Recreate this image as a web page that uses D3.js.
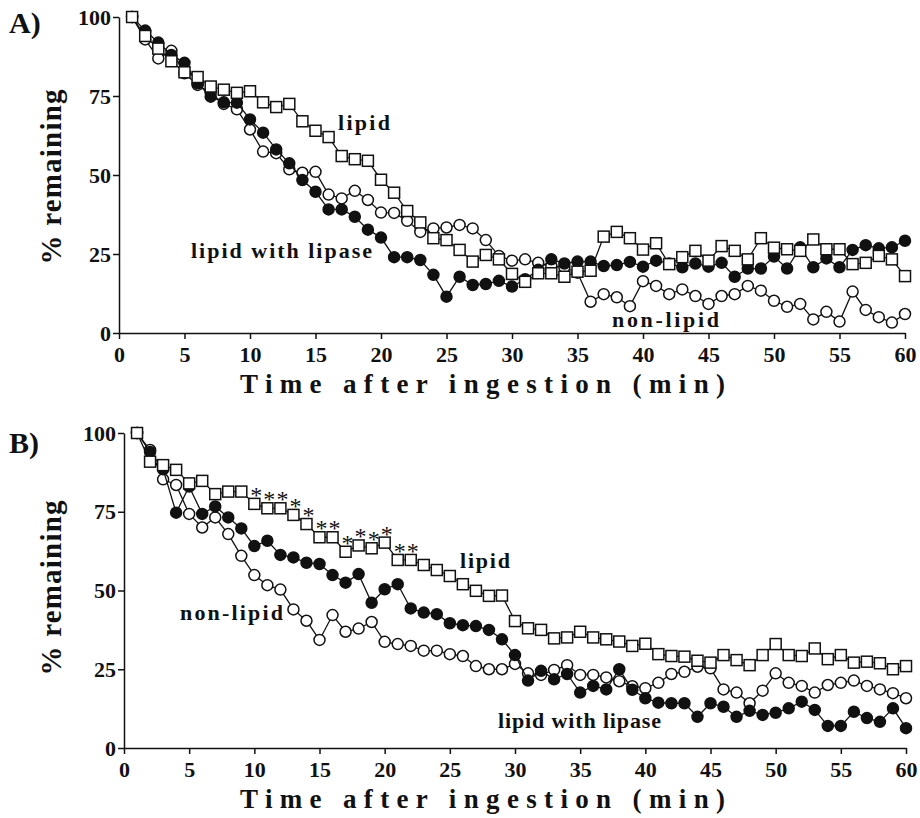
<!DOCTYPE html>
<html>
<head>
<meta charset="utf-8">
<script src="https://cdn.jsdelivr.net/npm/d3@7"></script>
<style>
  body { margin: 0; background: #fff; }
  text { font-family: 'Liberation Serif', 'Times New Roman', serif; font-weight: bold; fill: #111; }
</style>
</head>
<body>
<svg id="canvas" width="920" height="818"></svg>
<script>
// minutes after ingestion, 1..60
let minutes = d3.range(1, 61)

// panel A, % remaining
let lipidA = [100, 94, 90, 86, 82.5, 81, 78, 77, 76, 76.5, 73, 71.5, 72.5, 67, 64, 62, 56, 55, 54.5, 48.5,
  44.4, 38.6, 35, 30, 29.4, 26.3, 22.6, 24.7, 23.3, 18.7, 16.2, 18.9, 18.9, 17.8, 19.4, 19.7, 30.5, 32, 30, 26.4,
  28.4, 21.8, 24, 26, 22.9, 27.5, 26, 23.3, 30, 27, 26.5, 26, 29.6, 26.5, 26.5, 21.8, 22.2, 24.4, 23.3, 18]
let lipaseA = [100, 95.7, 91.9, 88, 85.5, 79, 74.8, 73, 72.9, 67.6, 63.4, 58.1, 53.7, 48.4, 44.7, 39.1, 39.1, 36.8, 32.7, 30.2,
  24, 24, 23.1, 18.4, 11.5, 17.8, 15.2, 15.5, 16.5, 14.7, 17, 20, 23.3, 22, 22.6, 22.6, 21.2, 21.5, 22.5, 21,
  22.9, 22, 20.8, 22, 21, 22.2, 17.8, 20.4, 20.4, 24.2, 20.4, 27.1, 20.8, 23.6, 20.8, 26.3, 27.8, 26.8, 27.1, 29.2]
let nonLipidA = [100, 92.9, 86.9, 89.3, 82.2, 78.5, 76, 72.5, 70.8, 64.4, 57.4, 56.9, 51.8, 50.7, 51, 43.8, 42.6, 45, 42.1, 38.1,
  38, 35.5, 32, 33.1, 33.4, 34.2, 33.1, 29.4, 24.4, 22.9, 23.3, 22.2, 21.2, 20.8, 19.1, 9.9, 12.3, 11.3, 8.5, 16.4,
  14.9, 12.3, 13.8, 11.7, 9.2, 11.7, 12.3, 14.9, 13.4, 10.2, 8.3, 9.2, 4.3, 6.7, 3.6, 13.1, 7.3, 5, 3.3, 6]

// panel B, % remaining
let lipidB = [100, 90.9, 89.8, 88.3, 84, 84.8, 80.6, 81.4, 81.4, 77.5, 76.1, 76.1, 74, 71.1, 66.9, 66.9, 62.3, 64.3, 63.4, 65.2,
  59.7, 59.7, 58.1, 56.5, 54.6, 52, 49.9, 48.3, 48.4, 40.3, 38, 37.5, 34.8, 35.1, 36.9, 35.1, 34.5, 33.8, 32.4, 33.1,
  29.8, 29.2, 29, 27.7, 27.1, 29.5, 27.9, 26.3, 29.5, 33, 29.5, 29.2, 31.6, 28.2, 29.5, 27.1, 27.4, 26.9, 25, 26]
let lipaseB = [100, 94, 88.5, 74.7, 83, 74.3, 76.7, 73.2, 69.7, 64.1, 65.8, 61.3, 60.5, 58.8, 58.4, 54.9, 52.5, 55.2, 46.1, 50.4,
  52, 44.3, 43, 42.5, 39.6, 39, 38.7, 37.5, 34.5, 29.5, 21.4, 24.5, 21.8, 23.5, 17.6, 19.7, 18.6, 25, 18.5, 15.8,
  14.4, 14.2, 14.2, 9.9, 14.2, 13.1, 9.9, 11.8, 10.5, 11.2, 12.6, 14.7, 12.1, 7, 7, 11.5, 9.5, 8.3, 12.6, 6.3]
let nonLipidB = [100, 94.6, 85.3, 83.5, 74.3, 70, 73.2, 67.9, 61, 54.9, 51.7, 50.3, 44, 40.4, 34.3, 42.2, 36.9, 37.9, 40, 33.7,
  33, 32.4, 30.9, 30.9, 29.8, 29.2, 26, 25, 25, 26.7, 23.7, 23.2, 24.8, 26.3, 23.2, 23.2, 22.4, 21.2, 19.6, 19,
  20.7, 23.5, 24.2, 25.8, 25.3, 18.6, 17.6, 14.2, 18.2, 23.7, 20.7, 19.7, 17.6, 20, 20.7, 21.4, 19.7, 18.6, 17.4, 15.8]

// minutes marked as significant (lipid vs lipid with lipase) in panel B
let starMinutes = [10, 11, 12, 13, 14, 15, 16, 17, 18, 19, 20, 21, 22]

let xTicks = [0, 5, 10, 15, 20, 25, 30, 35, 40, 45, 50, 55, 60]
let yTicks = [0, 25, 50, 75, 100]

let canvas = d3.select('#canvas')

// layout of the two panels (pixels)
let panels = [
  {
    tag: 'A)', tagY: 33, x: [119, 905], y: [333, 17], titleY: 393, yTitleMid: 177,
    lipid: lipidA, lipase: lipaseA, nonLipid: nonLipidA, stars: false,
    labels: [
      { text: 'lipid', x: 338, y: 130, len: 52 },
      { text: 'lipid with lipase', x: 191, y: 258, len: 181 },
      { text: 'non-lipid', x: 612, y: 327, len: 107 }
    ]
  },
  {
    tag: 'B)', tagY: 453, x: [124, 906], y: [748, 433], titleY: 808, yTitleMid: 588,
    lipid: lipidB, lipase: lipaseB, nonLipid: nonLipidB, stars: true,
    labels: [
      { text: 'lipid', x: 460, y: 568, len: 50 },
      { text: 'non-lipid', x: 180, y: 620, len: 103 },
      { text: 'lipid with lipase', x: 498, y: 728, len: 163 }
    ]
  }
]

let drawSeries = (g, xScale, yScale, values, marker) => {
  let pts = minutes.map((m, i) => [xScale(m), yScale(values[i])])

  g.append('path')
    .attr('d', d3.line()(pts))
    .attr('fill', 'none')
    .attr('stroke', '#111')
    .attr('stroke-width', 1.3)

  if (marker === 'square') {
    g.selectAll(null)
      .data(pts)
      .enter()
      .append('rect')
      .attr('x', (d) => d[0] - 5.5)
      .attr('y', (d) => d[1] - 5.5)
      .attr('width', 11)
      .attr('height', 11)
      .attr('fill', '#fff')
      .attr('stroke', '#111')
      .attr('stroke-width', 1.5)
  } else {
    g.selectAll(null)
      .data(pts)
      .enter()
      .append('circle')
      .attr('cx', (d) => d[0])
      .attr('cy', (d) => d[1])
      .attr('r', 5.5)
      .attr('fill', marker === 'filled' ? '#111' : '#fff')
      .attr('stroke', '#111')
      .attr('stroke-width', 1.5)
  }
}

let drawPanel = (p) => {
  let xScale = d3.scaleLinear().domain([0, 60]).range(p.x)
  let yScale = d3.scaleLinear().domain([0, 100]).range(p.y)

  let g = canvas.append('g')

  let xAxis = d3.axisBottom(xScale).tickValues(xTicks).tickSize(6).tickSizeOuter(0).tickPadding(7)
  let yAxis = d3.axisLeft(yScale).tickValues(yTicks).tickSize(6).tickSizeOuter(0).tickPadding(2)

  let gx = g.append('g')
    .attr('transform', 'translate(0,' + p.y[0] + ')')
    .call(xAxis)
  gx.selectAll('text').style('font-size', '22px').attr('fill', '#111')

  let gy = g.append('g')
    .attr('transform', 'translate(' + p.x[0] + ',0)')
    .call(yAxis)
  gy.selectAll('text').style('font-size', '22px').attr('fill', '#111')

  g.selectAll('.domain, .tick line').attr('stroke', '#111').attr('stroke-width', 1.5)

  // series: non-lipid (open), lipid with lipase (filled), lipid (squares)
  drawSeries(g, xScale, yScale, p.nonLipid, 'open')
  drawSeries(g, xScale, yScale, p.lipase, 'filled')
  drawSeries(g, xScale, yScale, p.lipid, 'square')

  if (p.stars) {
    g.selectAll(null)
      .data(starMinutes)
      .enter()
      .append('text')
      .attr('x', (m) => xScale(m) + 2)
      .attr('y', (m) => yScale(p.lipid[m - 1]) - 1)
      .attr('text-anchor', 'middle')
      .style('font-size', '24px')
      .style('font-weight', 'normal')
      .text('*')
  }

  p.labels.forEach((l) => {
    g.append('text')
      .attr('x', l.x)
      .attr('y', l.y)
      .attr('textLength', l.len)
      .attr('lengthAdjust', 'spacing')
      .style('font-size', '22px')
      .text(l.text)
  })

  g.append('text')
    .attr('x', 9)
    .attr('y', p.tagY)
    .style('font-size', '30px')
    .text(p.tag)

  g.append('text')
    .attr('x', 240)
    .attr('y', p.titleY)
    .attr('textLength', 485)
    .attr('lengthAdjust', 'spacing')
    .style('font-size', '27px')
    .text('Time after ingestion (min)')

  g.append('text')
    .attr('transform', 'translate(61,' + p.yTitleMid + ') rotate(-90)')
    .attr('text-anchor', 'middle')
    .attr('textLength', 175)
    .attr('lengthAdjust', 'spacing')
    .style('font-size', '29px')
    .text('% remaining')
}

panels.forEach(drawPanel)
</script>
</body>
</html>
